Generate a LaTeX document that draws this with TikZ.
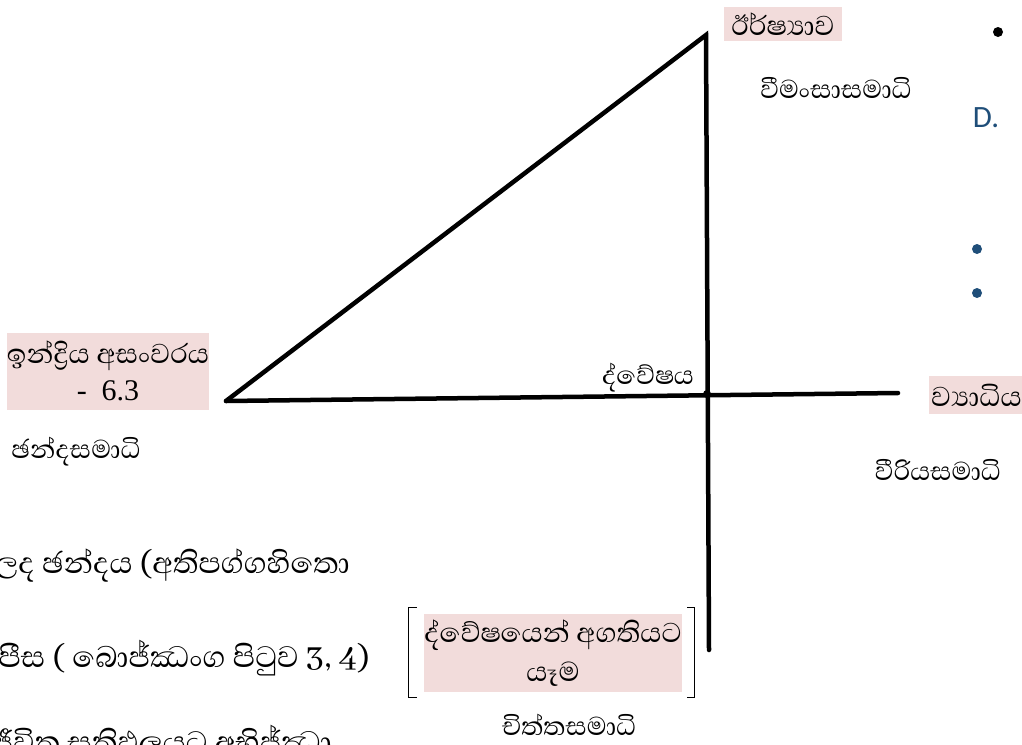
\documentclass[tikz,border=0pt]{standalone}
\usepackage{fontspec}
\setmainfont{Liberation Serif}
\newfontfamily\sinhala[Script=Sinhala]{Abhaya Libre}
\newfontfamily\slidefont{Carlito}
\usetikzlibrary{positioning}
\definecolor{rosa}{HTML}{F2DCDB}
\definecolor{blu}{HTML}{1F4E79}
\tikzset{
  pinkbox/.style={fill=rosa, inner sep=0pt, align=center, font=\sinhala\fontsize{35}{37}\selectfont},
  samadhi/.style={font=\sinhala\fontsize{33}{36}\selectfont, inner sep=0pt},
  bigline/.style={font=\sinhala\fontsize{38}{40}\selectfont, anchor=base east, inner sep=0pt},
  bar/.style={line width=4.5pt, line cap=round, line join=miter},
}

\begin{document}
\begin{tikzpicture}[x=1pt, y=-1pt]
  \clip (0,0) rectangle (1022,744);
  % Triangle
  \coordinate (left) at (226,401);
  \coordinate (apex) at (706,35);
  \coordinate (cross) at (707,394);
  \coordinate (right) at (898,393);
  \coordinate (foot) at (709,650);
  \draw[bar] (left) -- (apex) -- (foot);
  \draw[bar] (left) -- (right);
  \fill (cross) circle (4);
  % Corner labels
  \node[pinkbox, minimum width=118, minimum height=34] (irsha) at (783,24) {ඊර්ෂ්‍යාව};
  \node[samadhi] (vimamsa) at (836,88) {වීමංසාසමාධි};
  \node[pinkbox, minimum width=201, minimum height=77] (indriya) at (108,371) {ඉන්ද්‍රිය අසංවරය\\{\rmfamily\fontsize{30}{30}\selectfont - \ 6.3}};
  \node[samadhi] (chanda) at (76,452) {ඡන්දසමාධි};
  \node[samadhi] (dvesha) at (648,378) {ද්වේෂය};
  \node[pinkbox, anchor=west, minimum height=38, inner xsep=2pt] (vyadhi) at (929,395) {ව්‍යාධිය};
  \node[samadhi] (viriya) at (938,470) {වීරියසමාධි};
  % Bracketed box
  \node[pinkbox, minimum width=258, minimum height=78, font=\sinhala\fontsize{35}{39}\selectfont] (agati) at (553,653) {ද්වේෂයෙන් අගතියට\\යෑම};
  \draw[thick] ([xshift=-7,yshift=6]agati.north west) -- ([xshift=-15,yshift=6]agati.north west)
    -- ([xshift=-15,yshift=-5]agati.south west) -- ([xshift=-7,yshift=-5]agati.south west);
  \draw[thick] ([xshift=5,yshift=6]agati.north east) -- ([xshift=12,yshift=6]agati.north east)
    -- ([xshift=12,yshift=-5]agati.south east) -- ([xshift=5,yshift=-5]agati.south east);
  \node[samadhi] (chitta) at (569,725) {චිත්තසමාධි};
  % Text at the bottom left
  \node[bigline] (line1) at (350,573) {ලද ඡන්දය (අතිපග්ගහිතො};
  \node[bigline] (line2) at (370,667) {ආපීස ( බොජ්ඣංග පිටුව 3, 4)};
  \node[bigline] (line3) at (332,752) {ජීවිත සතිඵලයට අභිජ්ඣා};
  % Slide remnants on the right
  \fill (998,32) circle (5);
  \node[blu, font=\slidefont\fontsize{31}{34}\selectfont] (dee) at (986,118) {D.};
  \fill[blu] (977,249) circle (5);
  \fill[blu] (977,293) circle (5);
\end{tikzpicture}
\end{document}
